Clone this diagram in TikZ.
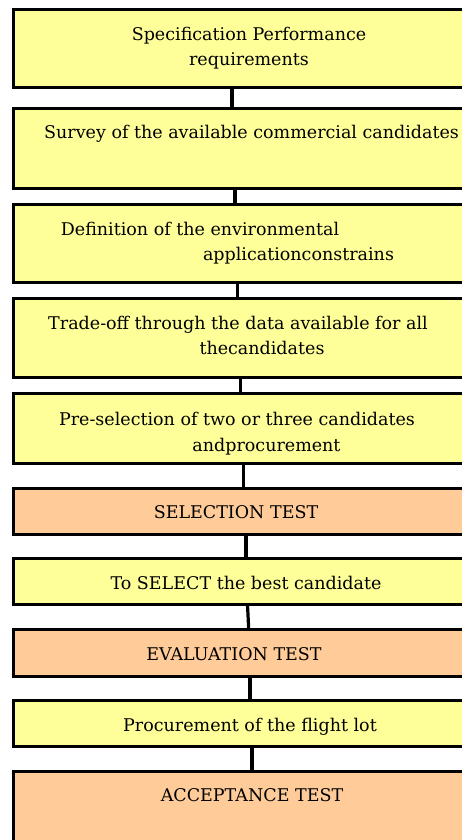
\documentclass[tikz,border=0pt]{standalone}
\usepackage{fontspec}
\setmainfont{DejaVu Serif}
\usepackage{tikz}
\definecolor{boxyellow}{HTML}{FFFF99}
\definecolor{boxorange}{HTML}{FFCC99}
\tikzset{stepbox/.style={draw,line width=3pt,outer sep=0pt,inner sep=0pt,anchor=north west,minimum width=470pt},
  spec/.style={stepbox,fill=boxyellow},
  test/.style={stepbox,fill=boxorange},
  txt/.style={anchor=base,inner sep=0pt,font=\fontsize{17.5}{21}\selectfont},
  link/.style={line width=3.2pt}}

\begin{document}
\begin{tikzpicture}[x=1pt,y=-1pt]
        \useasboundingbox (0,0) rectangle (462,840);
        \clip (0,0) rectangle (462,840);

        % boxes
        \node[spec, minimum height=78pt] (b1) at (13,10) {};
        \node[spec, minimum height=79pt] (b2) at (13,109) {};
        \node[spec, minimum height=78pt] (b3) at (13,204.5) {};
        \node[spec, minimum height=78.5pt] (b4) at (13,298.5) {};
        \node[spec, minimum height=70pt] (b5) at (13,393.5) {};
        \node[test, minimum height=46.5pt] (b6) at (13,488) {};
        \node[spec, minimum height=46pt] (b7) at (13,558.5) {};
        \node[test, minimum height=46.5pt] (b8) at (13,629.5) {};
        \node[spec, minimum height=45.5pt] (b9) at (13,700.5) {};
        \node[test, minimum height=100pt] (b10) at (13,771.5) {};

        % texts
        \node[txt] (t1a) at (249,41) {Specification Performance};
        \node[txt] (t1b) at (249,65.5) {requirements};
        \node[txt, anchor=base west] (t2) at (44,138.3) {Survey of the available commercial candidates};
        \node[txt] (t3a) at (200,235) {Definition of the environmental};
        \node[txt] (t3b) at (298.5,260.7) {applicationconstrains};
        \node[txt] (t4a) at (238,329.3) {Trade-off through the data available for all};
        \node[txt] (t4b) at (262,354.3) {thecandidates};
        \node[txt] (t5a) at (237,425) {Pre-selection of two or three candidates};
        \node[txt] (t5b) at (266.5,451.7) {andprocurement};
        \node[txt] (t6) at (236,518.3) {SELECTION TEST};
        \node[txt] (t7) at (246,589.3) {To SELECT the best candidate};
        \node[txt] (t8) at (234,660.7) {EVALUATION TEST};
        \node[txt] (t9) at (250,731.7) {Procurement of the flight lot};
        \node[txt] (t10) at (252,801.7) {ACCEPTANCE TEST};

        % links
        \draw[link] ([xshift=219pt]b1.south west) -- ([xshift=219pt]b2.north west);
        \draw[link] ([xshift=222pt]b2.south west) -- ([xshift=222pt]b3.north west);
        \draw[link] ([xshift=224.7pt]b3.south west) -- ([xshift=224.7pt]b4.north west);
        \draw[link] ([xshift=227.7pt]b4.south west) -- ([xshift=227.7pt]b5.north west);
        \draw[link] ([xshift=230.7pt]b5.south west) -- ([xshift=230.7pt]b6.north west);
        \draw[link] ([xshift=233pt]b6.south west) -- ([xshift=233pt]b7.north west);
        \draw[link] ([xshift=234.5pt]b7.south west) -- ([xshift=235.7pt]b8.north west);
        \draw[link] ([xshift=237pt]b8.south west) -- ([xshift=237pt]b9.north west);
        \draw[link] ([xshift=239pt]b9.south west) -- ([xshift=239pt]b10.north west);
    \end{tikzpicture}
\end{document}
